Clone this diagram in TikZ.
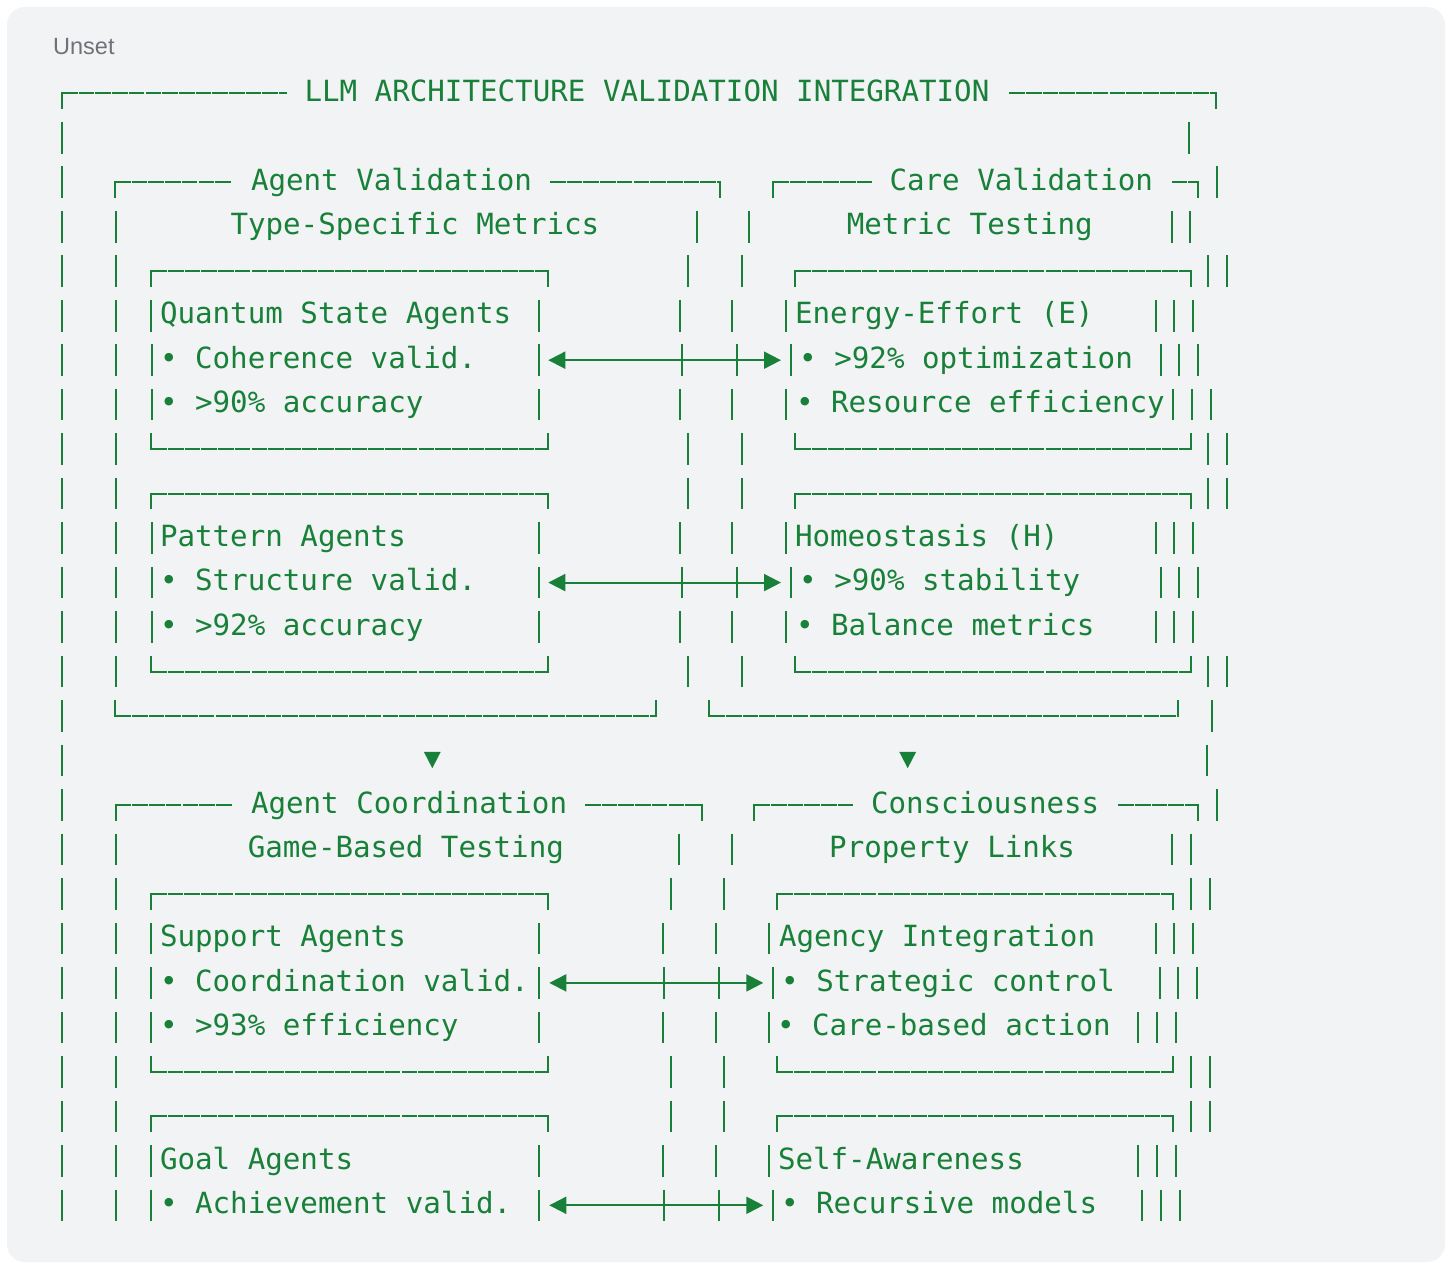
\documentclass[tikz,border=0pt]{standalone}
\usepackage{fontspec}
\usetikzlibrary{arrows.meta}
\setmainfont{Liberation Sans}
\newfontfamily\codefont{DejaVu Sans Mono}
\definecolor{cg}{HTML}{188038}
\definecolor{bgc}{HTML}{F1F3F4}
\definecolor{lbl}{HTML}{6F7378}
\newcommand\rowB[1]{\pgfmathsetmacro\bb{101.5+(#1-1)*44.48}}
\newcommand\tx[4]{\rowB{#2}\node[txt] (#1) at (#3,\bb) {#4};}
\begin{document}
\begin{tikzpicture}[x=1pt,y=-1pt,
  bar/.style={draw=cg,line width=2pt},
  hz/.style={draw=cg,line width=2pt,dash pattern=on 15.6pt off 1.1pt},
  txt/.style={text=cg,font=\codefont\fontsize{29.17}{35}\selectfont,inner sep=0pt,outer sep=0pt,anchor=base west},
  arr/.style={draw=cg,line width=2pt,{Triangle[length=17pt,width=17pt]}-{Triangle[length=17pt,width=17pt]}},
  tri/.style={fill=cg}]
\useasboundingbox (0,0) rectangle (1452,1263);
\fill[white] (0,0) rectangle (1452,1263);
\fill[bgc,rounded corners=18pt] (7,7) rectangle (1445,1262);
\node[anchor=base west,inner sep=0pt,text=lbl,font=\fontsize{23.5}{28}\selectfont] (unset) at (53,54.3) {Unset};
% vertical bars
\foreach \r/\xs in {2/{62,1189},3/{62,1216.7},4/{62,116,696.7,749.3,1171.7,1190},
 5/{62,115.7,688.3,741.7,1208.3,1226.7},
 6/{62,115.7,151.3,539,680,732.3,786,1155.7,1174.3,1193.3},
 7/{62,115.7,151.7,539,682.3,736.7,791,1160.7,1179.3,1198.3},
 8/{62,115.7,151.7,539,680,732.3,786,1172.7,1191.7,1210.7},
 9/{62,115.7,688.3,741.7,1208.3,1226.7},
 10/{62,115.7,688.3,741.7,1208.3,1226.7},
 11/{62,115.7,151.7,539,680,732.3,786,1155.7,1174.3,1193.3},
 12/{62,115.7,151.7,539,682.3,736.7,791,1160.7,1179.3,1198.3},
 13/{62,115.7,151.7,539,680,732.3,786,1155.7,1174.3,1193.3},
 14/{62,115.7,688.3,741.7,1208.3,1226.7},
 15/{62,1212.3},16/{62,1206.7},17/{62,1216.7},
 18/{62,115.7,679,732.3,1171.7,1190.7},
 19/{62,115.7,671,724,1190.7,1210},
 20/{62,115.7,151.3,539,662.7,716,768.7,1155.7,1174.3,1193.3},
 21/{62,115.7,151.3,539,664.3,718.7,772.7,1160,1178.3,1197.3},
 22/{62,115.7,151.3,539,662.7,716,768.7,1138,1157,1176},
 23/{62,115.7,671,724,1190.7,1210},
 24/{62,115.7,671,724,1190.7,1210},
 25/{62,115.7,151.3,539,662.7,716,768.7,1138,1157,1176},
 26/{62,115.7,151.3,539,664.3,718.7,772.7,1142,1161,1180}}{
  \rowB{\r}
  \foreach \x in \xs {\draw[bar] (\x,\bb-24) -- (\x,\bb+7.6);}
}
% full top edges (box corners left and right)
\foreach \r/\a/\b in {5/151.3/547.7,5/795/1190.7,10/151.3/547.7,10/795/1190.7,
  19/151/547.7,19/777.3/1172.7,24/151/547.7,24/777.3/1172.7}{
  \rowB{\r}
  \draw[bar] (\a,\bb-9.2) -- (\a,\bb+7.6);
  \draw[bar] (\b,\bb-9.2) -- (\b,\bb+7.6);
  \draw[hz] (\a,\bb-8.2) -- (\b,\bb-8.2);
}
% full bottom edges
\foreach \r/\a/\b in {9/151.3/547.7,9/795/1190.7,14/151.3/547.7,14/795/1190.7,
  15/115.3/655.7,15/709.3/1177.7,23/151/547.7,23/777.3/1172.7}{
  \rowB{\r}
  \draw[bar] (\a,\bb-24) -- (\a,\bb-7.2);
  \draw[bar] (\b,\bb-24) -- (\b,\bb-7.2);
  \draw[hz] (\a,\bb-8.2) -- (\b,\bb-8.2);
}
% title edges: left corners
\foreach \r/\a/\e in {1/62/287,3/115/231.7,3/773.3/871.7,17/115.7/231.7,17/754.3/852.7}{
  \rowB{\r}
  \draw[bar] (\a,\bb-9.2) -- (\a,\bb+7.6);
  \draw[hz] (\a,\bb-8.2) -- (\e,\bb-8.2);
}
% title edges: right corners
\foreach \r/\s/\b in {1/1009.3/1215.7,3/550/720,3/1171.7/1198.3,17/585/701.7,17/1118.3/1198.3}{
  \rowB{\r}
  \draw[bar] (\b,\bb-9.2) -- (\b,\bb+7.6);
  \draw[hz] (\s,\bb-8.2) -- (\b,\bb-8.2);
}
% arrows
\rowB{7}
\coordinate (a7l) at (548.3,\bb-8.2); \coordinate (a7r) at (781,\bb-8.2);
\rowB{12}
\coordinate (a12l) at (548.3,\bb-8.2); \coordinate (a12r) at (781,\bb-8.2);
\rowB{21}
\coordinate (a21l) at (549.3,\bb-8.2); \coordinate (a21r) at (763.3,\bb-8.2);
\rowB{26}
\coordinate (a26l) at (549.3,\bb-8.2); \coordinate (a26r) at (763.3,\bb-8.2);
\draw[arr] (a7l) -- (a7r);
\draw[arr] (a12l) -- (a12r);
\draw[arr] (a21l) -- (a21r);
\draw[arr] (a26l) -- (a26r);
% down triangles
\rowB{16}
\foreach \x in {432.3,907.7}{
  \fill[tri] (\x-8.4,\bb-16.8) -- (\x+8.4,\bb-16.8) -- (\x,\bb-0.5) -- cycle;
}
% texts
\tx{t1}{1}{304.5}{LLM ARCHITECTURE VALIDATION INTEGRATION}
\tx{t3a}{3}{251}{Agent Validation}
\tx{t3b}{3}{889.5}{Care Validation}
\tx{t4a}{4}{230.5}{Type-Specific Metrics}
\tx{t4b}{4}{846.8}{Metric Testing}
\tx{t6a}{6}{160}{Quantum State Agents}
\tx{t6b}{6}{795}{Energy-Effort (E)}
\tx{t7a}{7}{160}{• Coherence valid.}
\tx{t7b}{7}{799.2}{• >92\% optimization}
\tx{t8a}{8}{160}{• >90\% accuracy}
\tx{t8b}{8}{796}{• Resource efficiency}
\tx{t11a}{11}{160}{Pattern Agents}
\tx{t11b}{11}{795}{Homeostasis (H)}
\tx{t12a}{12}{160}{• Structure valid.}
\tx{t12b}{12}{799.2}{• >90\% stability}
\tx{t13a}{13}{160}{• >92\% accuracy}
\tx{t13b}{13}{796}{• Balance metrics}
\tx{t17a}{17}{251}{Agent Coordination}
\tx{t17b}{17}{871}{Consciousness}
\tx{t18a}{18}{247.8}{Game-Based Testing}
\tx{t18b}{18}{829.2}{Property Links}
\tx{t20a}{20}{160}{Support Agents}
\tx{t20b}{20}{779}{Agency Integration}
\tx{t21a}{21}{160}{• Coordination valid.}
\tx{t21b}{21}{781.2}{• Strategic control}
\tx{t22a}{22}{160}{• >93\% efficiency}
\tx{t22b}{22}{777}{• Care-based action}
\tx{t25a}{25}{160}{Goal Agents}
\tx{t25b}{25}{778}{Self-Awareness}
\tx{t26a}{26}{160}{• Achievement valid.}
\tx{t26b}{26}{781}{• Recursive models}
\end{tikzpicture}
\end{document}
